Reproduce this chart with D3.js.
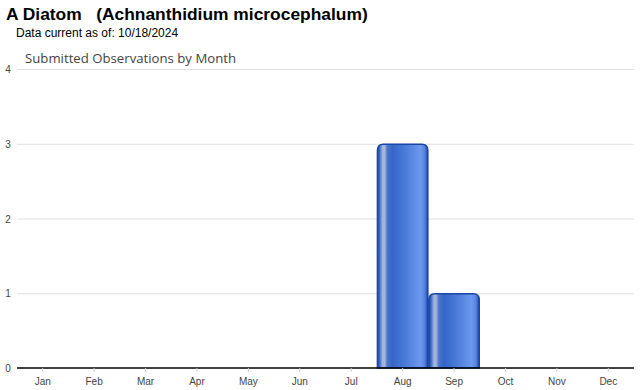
<!DOCTYPE html>
<html>
<head>
<meta charset="utf-8">
<script src="https://cdn.jsdelivr.net/npm/d3@7"></script>
<style>
  body { margin: 0; background: #fff; }
  svg { display: block; }
</style>
</head>
<body>
<div id="chart"></div>
<script>
// data
var months = ["Jan", "Feb", "Mar", "Apr", "May", "Jun", "Jul", "Aug", "Sep", "Oct", "Nov", "Dec"];
var counts = [0, 0, 0, 0, 0, 0, 0, 3, 1, 0, 0, 0];
var yTicks = [0, 1, 2, 3, 4];

var width = 640, height = 390;
var margin = {top: 69, right: 6, bottom: 22, left: 17};
var innerW = width - margin.left - margin.right,
    innerH = height - margin.top - margin.bottom;

var svg = d3.select("#chart").append("svg")
    .attr("width", width)
    .attr("height", height);

// gradient for the bars
var defs = svg.append("defs");
var grad = defs.append("linearGradient")
    .attr("id", "barGrad")
    .attr("x1", "0%").attr("x2", "100%").attr("y1", "0%").attr("y2", "0%");
[[0, "#2350b0"], [0.04, "#3a64c0"], [0.1, "#9db2dc"], [0.14, "#a6b9de"], [0.2, "#4a74c8"],
 [0.3, "#3466c8"], [0.6, "#4f80dc"], [0.85, "#6d98ee"], [0.93, "#5a86e2"], [1, "#1c4aad"]].forEach(function(s) {
  grad.append("stop").attr("offset", s[0]).attr("stop-color", s[1]);
});

// titles
svg.append("text")
    .attr("x", 6).attr("y", 20)
    .attr("font-family", "Arial, 'Liberation Sans', sans-serif")
    .attr("font-size", 17.4).attr("font-weight", "bold")
    .attr("fill", "#000")
    .attr("xml:space", "preserve")
    .text("A Diatom   (Achnanthidium microcephalum)");

svg.append("text")
    .attr("x", 16).attr("y", 37)
    .attr("font-family", "Arial, 'Liberation Sans', sans-serif")
    .attr("font-size", 12)
    .attr("fill", "#000")
    .text("Data current as of: 10/18/2024");

svg.append("text")
    .attr("x", 25).attr("y", 63)
    .attr("font-family", "'Open Sans', 'DejaVu Sans', sans-serif")
    .attr("font-size", 13.2)
    .attr("fill", "#444")
    .text("Submitted Observations by Month");

var g = svg.append("g")
    .attr("transform", "translate(" + margin.left + "," + margin.top + ")");

var x = d3.scaleBand().domain(months).range([0, innerW]).padding(0);
var y = d3.scaleLinear().domain([0, 4]).range([innerH, 0]);

// gridlines
g.selectAll(".grid").data(yTicks.filter(function(d) { return d > 0; }))
  .enter().append("line")
    .attr("x1", 0).attr("x2", innerW)
    .attr("y1", function(d) { return y(d) + 0.5; })
    .attr("y2", function(d) { return y(d) + 0.5; })
    .attr("stroke", "#e0e0e0");

// y labels
g.selectAll(".ylab").data(yTicks)
  .enter().append("text")
    .attr("x", -9).attr("y", function(d) { return y(d) + 4; })
    .attr("text-anchor", "middle")
    .attr("font-family", "Arial, 'Liberation Sans', sans-serif")
    .attr("font-size", 10)
    .attr("fill", "#444")
    .text(function(d) { return d; });

// bars with rounded tops
var r = 6;
function barPath(d, i) {
  var x0 = x(months[i]) + 0.5, x1 = x(months[i]) + x.bandwidth() - 0.5;
  var y0 = y(d) + 0.5, yb = y(0);
  return "M" + x0 + "," + yb + "L" + x0 + "," + (y0 + r) +
    "Q" + x0 + "," + y0 + " " + (x0 + r) + "," + y0 +
    "L" + (x1 - r) + "," + y0 +
    "Q" + x1 + "," + y0 + " " + x1 + "," + (y0 + r) +
    "L" + x1 + "," + yb + "Z";
}
g.selectAll(".bar").data(counts.map(function(d, i) { return {v: d, i: i}; }))
  .enter().filter(function(d) { return d.v > 0; }).append("path")
    .attr("d", function(d) { return barPath(d.v, d.i); })
    .attr("fill", "url(#barGrad)")
    .attr("stroke", "#1a46a4")
    .attr("stroke-width", 1.5);

// x axis
var xAxis = g.append("g")
    .attr("transform", "translate(0," + innerH + ")")
    .call(d3.axisBottom(x).tickSize(4).tickPadding(6));
xAxis.select(".domain").attr("stroke", "#000").attr("stroke-width", 1.5).attr("d", "M0,0H" + innerW);
xAxis.selectAll(".tick line").attr("stroke", "#ccc");
xAxis.selectAll(".tick text")
    .attr("font-family", "Arial, 'Liberation Sans', sans-serif")
    .attr("font-size", 10)
    .attr("fill", "#444");
</script>
</body>
</html>
